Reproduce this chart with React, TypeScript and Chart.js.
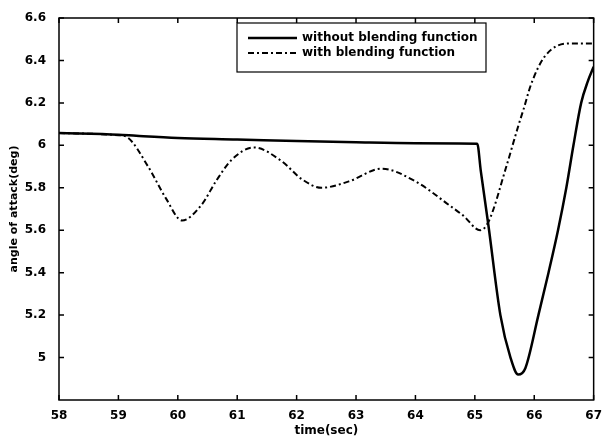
import React, { useEffect, useRef } from "react";
import { Chart, registerables } from "chart.js";

Chart.register(...registerables);

const xTicks = [58, 59, 60, 61, 62, 63, 64, 65, 66, 67];
const yTicks = [5, 5.2, 5.4, 5.6, 5.8, 6, 6.2, 6.4, 6.6];
const seriesLabels = ["without blending function", "with blending function"];
const xTitle = "time(sec)";
const yTitle = "angle of attack(deg)";

const withoutT = [58, 59, 59.3, 60, 61, 62, 63, 64, 65.04, 65.1, 65.23, 65.43, 65.6, 65.73, 65.85, 66.07, 66.24, 66.4, 66.54, 66.66, 66.79, 66.9, 67];
const withoutV = [6.058, 6.05, 6.045, 6.035, 6.028, 6.02, 6.014, 6.01, 6.008, 5.88, 5.62, 5.2, 5.0, 4.92, 4.95, 5.2, 5.4, 5.6, 5.8, 6.0, 6.2, 6.3, 6.37];

const withT = [58, 59, 59.14, 59.5, 59.8, 60.07, 60.4, 60.64, 60.9, 61.28, 61.75, 62.09, 62.42, 62.88, 63.43, 64.0, 64.56, 64.8, 65.09, 65.23, 65.53, 65.73, 65.82, 65.95, 66.18, 66.57, 67];
const withV = [6.058, 6.048, 6.04, 5.9, 5.75, 5.646, 5.72, 5.83, 5.93, 5.99, 5.925, 5.84, 5.80, 5.83, 5.89, 5.83, 5.72, 5.67, 5.60, 5.64, 5.90, 6.09, 6.17, 6.29, 6.42, 6.48, 6.48];

const FONT = "DejaVu Sans";

const framePlugin = {
  id: "frame",
  afterDatasetsDraw(chart: any) {
    const { ctx, chartArea: a, scales } = chart;
    ctx.save();
    ctx.strokeStyle = "#000";
    ctx.lineWidth = 1.5;
    ctx.setLineDash([]);
    ctx.strokeRect(a.left, a.top, a.right - a.left, a.bottom - a.top);
    const L = 5;
    ctx.beginPath();
    for (const v of xTicks) {
      const px = scales.x.getPixelForValue(v);
      ctx.moveTo(px, a.bottom);
      ctx.lineTo(px, a.bottom - L);
      ctx.moveTo(px, a.top);
      ctx.lineTo(px, a.top + L);
    }
    for (const v of yTicks) {
      const py = scales.y.getPixelForValue(v);
      ctx.moveTo(a.left, py);
      ctx.lineTo(a.left + L, py);
      ctx.moveTo(a.right, py);
      ctx.lineTo(a.right - L, py);
    }
    ctx.stroke();

    // legend box
    const bx = a.left + 178;
    const by = a.top + 5;
    const bw = 249;
    const bh = 49;
    ctx.fillStyle = "#fff";
    ctx.fillRect(bx, by, bw, bh);
    ctx.lineWidth = 1.2;
    ctx.strokeRect(bx, by, bw, bh);
    ctx.font = `bold 12px "${FONT}"`;
    ctx.textBaseline = "middle";
    ctx.textAlign = "left";
    chart.data.datasets.forEach((ds: any, i: number) => {
      const ry = by + 15 + i * 15;
      ctx.beginPath();
      ctx.setLineDash(ds.borderDash || []);
      ctx.lineWidth = ds.borderWidth;
      ctx.strokeStyle = ds.borderColor;
      ctx.moveTo(bx + 11, ry);
      ctx.lineTo(bx + 60, ry);
      ctx.stroke();
      ctx.setLineDash([]);
      ctx.fillStyle = "#000";
      ctx.fillText(ds.label, bx + 65, ry);
    });
    ctx.restore();
  },
};

export default function App() {
  const ref = useRef<HTMLCanvasElement | null>(null);
  useEffect(() => {
    if (!ref.current) return;
    const chart = new Chart(ref.current, {
      type: "line",
      data: {
        datasets: [
          {
            label: seriesLabels[0],
            data: withoutT.map((t, i) => ({ x: t, y: withoutV[i] })),
            borderColor: "#000",
            borderWidth: 2.5,
            pointRadius: 0,
            cubicInterpolationMode: "monotone",
            fill: false,
          },
          {
            label: seriesLabels[1],
            data: withT.map((t, i) => ({ x: t, y: withV[i] })),
            borderColor: "#000",
            borderWidth: 2,
            borderDash: [6, 3, 2, 3],
            pointRadius: 0,
            cubicInterpolationMode: "monotone",
            fill: false,
          },
        ],
      },
      options: {
        animation: false,
        responsive: false,
        layout: { padding: { top: 18, right: 7, left: 0, bottom: 0 } },
        plugins: { legend: { display: false }, tooltip: { enabled: false } },
        scales: {
          x: {
            type: "linear",
            min: 58,
            max: 67,
            grid: { display: false },
            border: { display: false },
            afterBuildTicks: (s: any) => {
              s.ticks = xTicks.map((v) => ({ value: v }));
            },
            afterFit: (s: any) => {
              s.height = 40;
            },
            ticks: {
              color: "#000",
              padding: 1,
              maxRotation: 0,
              font: { family: FONT, weight: "bold", size: 12 },
              callback: (v: any) => String(v),
            },
            title: {
              display: true,
              text: xTitle,
              color: "#000",
              padding: { top: 2, bottom: 2 },
              font: { family: FONT, weight: "bold", size: 12 },
            },
          },
          y: {
            type: "linear",
            min: 4.8,
            max: 6.6,
            grid: { display: false },
            border: { display: false },
            afterBuildTicks: (s: any) => {
              s.ticks = yTicks.map((v) => ({ value: v }));
            },
            afterFit: (s: any) => {
              s.width = 59;
            },
            ticks: {
              color: "#000",
              padding: 5,
              font: { family: FONT, weight: "bold", size: 12 },
              callback: (v: any) => String(Number(Number(v).toFixed(1))),
            },
            title: {
              display: true,
              text: yTitle,
              color: "#000",
              padding: { top: 8, bottom: 0 },
              font: { family: FONT, weight: "bold", size: 11 },
            },
          },
        },
      },
      plugins: [framePlugin],
    } as any);
    return () => chart.destroy();
  }, []);
  return (
    <div style={{ position: "fixed", left: 0, top: 0, width: 603, height: 440, background: "#fff" }}>
      <canvas ref={ref} width={603} height={440} />
    </div>
  );
}
